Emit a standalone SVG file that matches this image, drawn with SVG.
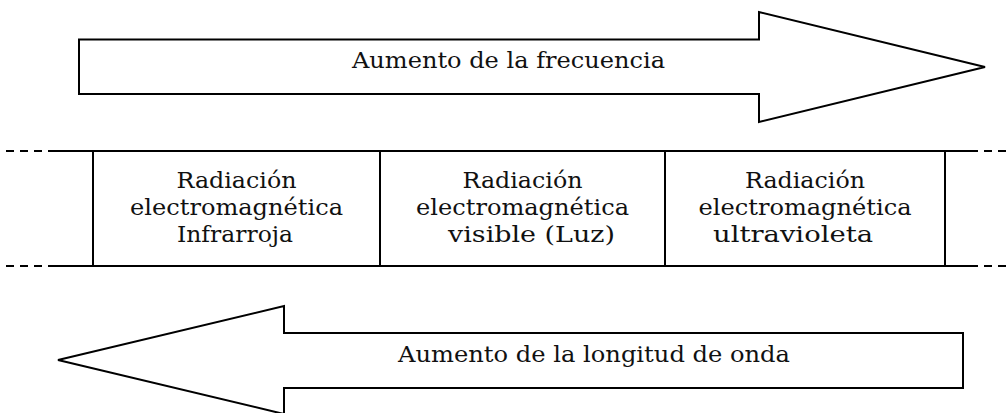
<svg xmlns="http://www.w3.org/2000/svg" width="1008" height="413" viewBox="0 0 1008 413">
<style>
.sh{fill:#fff;stroke:#000;stroke-width:2;stroke-linejoin:miter}
.ln{stroke:#000;stroke-width:2;fill:none}
.dash{stroke:#000;stroke-width:2;fill:none;stroke-dasharray:8 6}
.t{font-family:"DejaVu Serif","Liberation Serif",serif;font-size:22px;fill:#111;text-anchor:middle}
</style>
<rect width="1008" height="413" fill="#fff"/>
<g id="arrow-frecuencia">
<polygon class="sh" points="79,39.5 759,39.5 759,12 985,67 759,122 759,94 79,94"/>
<text class="t" x="508.5" y="68" textLength="313" lengthAdjust="spacingAndGlyphs">Aumento de la frecuencia</text>
</g>
<g id="connectors">
<line class="dash" x1="6" y1="151" x2="50" y2="151"/>
<line class="ln" x1="50" y1="151" x2="978" y2="151"/>
<line class="dash" x1="984" y1="151" x2="1008" y2="151"/>
<line class="dash" x1="6" y1="266" x2="50" y2="266"/>
<line class="ln" x1="50" y1="266" x2="978" y2="266"/>
<line class="dash" x1="984" y1="266" x2="1008" y2="266"/>
</g>
<g id="infrarroja">
<rect class="sh" x="93" y="151" width="287" height="115"/>
<text class="t" x="236.5" y="188" textLength="120" lengthAdjust="spacingAndGlyphs">Radiación</text>
<text class="t" x="236.5" y="215" textLength="213" lengthAdjust="spacingAndGlyphs">electromagnética</text>
<text class="t" x="235" y="242" textLength="116" lengthAdjust="spacingAndGlyphs">Infrarroja</text>
</g>
<g id="visible">
<rect class="sh" x="380" y="151" width="285" height="115"/>
<text class="t" x="522.5" y="188" textLength="120" lengthAdjust="spacingAndGlyphs">Radiación</text>
<text class="t" x="522.5" y="215" textLength="213" lengthAdjust="spacingAndGlyphs">electromagnética</text>
<text class="t" x="531.5" y="242" textLength="167" lengthAdjust="spacingAndGlyphs">visible (Luz)</text>
</g>
<g id="ultravioleta">
<rect class="sh" x="665" y="151" width="280" height="115"/>
<text class="t" x="805" y="188" textLength="120" lengthAdjust="spacingAndGlyphs">Radiación</text>
<text class="t" x="805" y="215" textLength="213" lengthAdjust="spacingAndGlyphs">electromagnética</text>
<text class="t" x="793" y="242" textLength="160" lengthAdjust="spacingAndGlyphs">ultravioleta</text>
</g>
<g id="arrow-longitud">
<polygon class="sh" points="963,333 284,333 284,306 58,360 284,414 284,388 963,388"/>
<text class="t" x="594" y="362" textLength="392" lengthAdjust="spacingAndGlyphs">Aumento de la longitud de onda</text>
</g>
</svg>
